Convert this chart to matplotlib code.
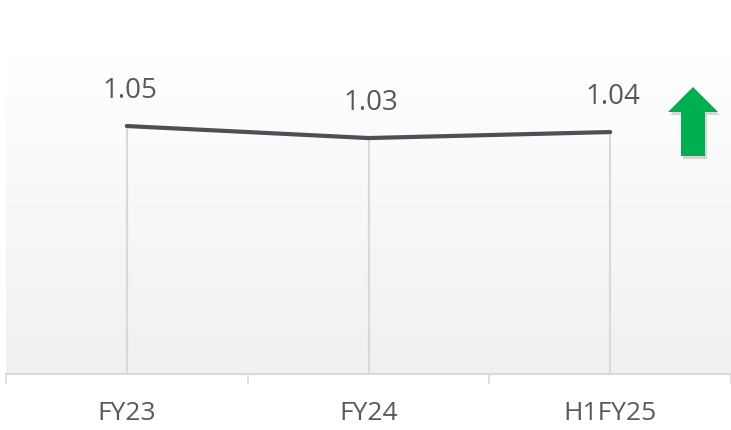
import numpy as np
import matplotlib.pyplot as plt
from matplotlib.patches import Polygon
from matplotlib.colors import LinearSegmentedColormap

plt.rcParams['font.family'] = ['Open Sans', 'DejaVu Sans']

# data
periods = ['FY23', 'FY24', 'H1FY25']
ratio = [1.05, 1.03, 1.04]
labels = ['1.05', '1.03', '1.04']

fig = plt.figure(figsize=(7.31, 4.31), dpi=100)
ax = fig.add_axes([6 / 731, 1 - 375 / 431, 1 - 6 / 731, 320 / 431])

x = np.arange(len(periods))
ymin, ymax = 0.637, 1.17
ax.set_xlim(-0.5, 2.5)
ax.set_ylim(ymin, ymax)

# plot-area gradient, white on top fading to light grey
grad = np.linspace(0, 1, 256).reshape(-1, 1)
cmap = LinearSegmentedColormap.from_list('bg', ['#ffffff', '#f0f0f0'])
ax.imshow(grad, cmap=cmap, aspect='auto', extent=[0, 1, 0, 1],
          transform=ax.transAxes, zorder=0)

# drop lines
ax.vlines(x, ymin, ratio, color='#d9d9d9', lw=1.5, zorder=1)

ax.plot(x, ratio, color='#4e4e56', lw=3, solid_capstyle='round', zorder=3)

for xi, yi, t in zip(x, ratio, labels):
    ax.annotate(t, (xi, yi), xytext=(2, 26), textcoords='offset points',
                ha='center', va='center', fontsize=20, color='#595959')

for s in ['top', 'right', 'left']:
    ax.spines[s].set_visible(False)
ax.spines['bottom'].set_color('#d9d9d9')
ax.spines['bottom'].set_linewidth(1.5)
ax.set_yticks([])
ax.set_xticks(x)
ax.set_xticklabels(periods, fontsize=19, color='#595959')
ax.tick_params(axis='x', which='major', length=0, pad=19)
ax.set_xticks([-0.5, 0.5, 1.5, 2.5], minor=True)
ax.tick_params(axis='x', which='minor', length=7, width=1.2, color='#d9d9d9')

# green up arrow on the right
def px(xp, yp):
    return (xp / 731, 1 - yp / 431)

arrow_pts = [(681, 157), (681, 113), (668, 113), (693, 88), (718, 113),
             (705, 113), (705, 157)]
shadow = Polygon([px(a + 2, b + 3) for a, b in arrow_pts], closed=True,
                 transform=fig.transFigure, facecolor='#000000', alpha=0.15,
                 edgecolor='none')
fig.add_artist(shadow)
arrow = Polygon([px(a, b) for a, b in arrow_pts], closed=True,
                transform=fig.transFigure, facecolor='#00b050',
                edgecolor='none')
fig.add_artist(arrow)

fig.savefig('out.png', dpi=100)
